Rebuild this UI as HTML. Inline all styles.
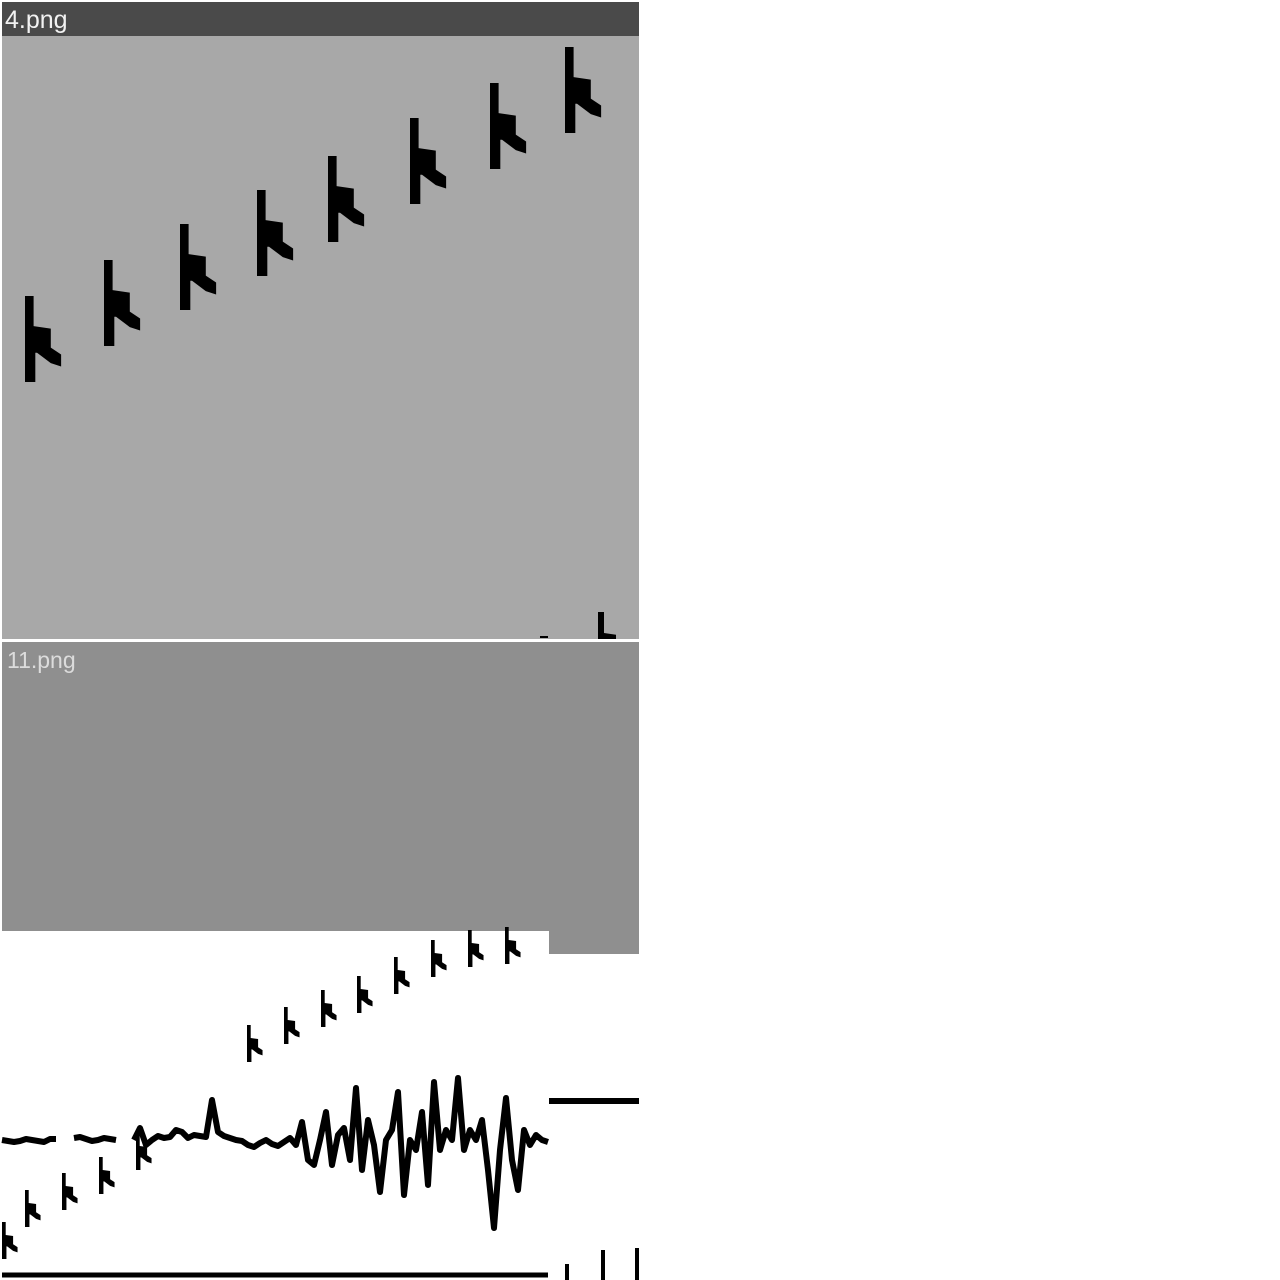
<!DOCTYPE html>
<html><head><meta charset="utf-8">
<style>
html,body{margin:0;padding:0;background:#fff;width:1280px;height:1280px;overflow:hidden}
svg{display:block}
text{font-family:"Liberation Sans",sans-serif}
</style></head>
<body>
<svg id="chart" width="1280" height="1280" viewBox="0 0 1280 1280">
  <defs><clipPath id="topclip"><rect x="2" y="2" width="637" height="637"/></clipPath></defs>
  <rect x="2" y="2" width="637" height="637" fill="#a8a8a8"/>
  <rect x="2" y="2" width="637" height="34" fill="#4a4a4a"/>
  <text x="5" y="28" font-size="25" fill="#f2f2f2">4.png</text>
  <rect x="2" y="642" width="637" height="312" fill="#8f8f8f"/>
  <text x="7" y="668" font-size="23" fill="#dcdcdc">11.png</text>
  <rect x="2" y="931" width="547" height="349" fill="#ffffff"/>
  <rect x="549" y="954" width="90" height="326" fill="#ffffff"/>
  <g id="marks"></g>
  <g id="topmarks" clip-path="url(#topclip)"></g>
</svg>
<script>
// big glyph series (top tile)
const bigX = [25, 104, 180, 257, 328, 410, 490, 565];
const bigTop = [296, 260, 224, 190, 156, 118, 83, 47];
// small glyph series (bottom strip, upper row)
const smallX = [247, 284, 321, 357, 394, 431, 468, 505];
const smallTop = [1025, 1007, 990, 976, 957, 940, 930, 927];
// small glyph series (bottom strip, lower row)
const lowX = [2, 25, 62, 99, 136];
const lowTop = [1222, 1190, 1173, 1157, 1133];
// wave trace values (step 6px from x=2)
const waveY = [1140,1141,1142,1141,1139,1140,1141,1142,1139,1139,null,null,1138,1137,1139,1141,1140,1138,1139,1140,null,null,1140,1128,1145,1140,1136,1138,1137,1130,1132,1138,1135,1136,1137,1100,1132,1136,1138,1140,1141,1145,1147,1143,1140,1144,1146,1142,1138,1145,1122,1160,1165,1140,1112,1165,1135,1128,1160,1088,1170,1120,1145,1192,1140,1130,1092,1195,1140,1150,1112,1185,1082,1150,1130,1140,1078,1150,1130,1140,1120,1170,1228,1150,1098,1160,1190,1130,1145,1135,1140,1142];

const NS = 'http://www.w3.org/2000/svg';
const g = document.getElementById('marks');
const gt = document.getElementById('topmarks');
const shape = [[0,0],[0.1,0],[0.1,0.35],[0.3,0.38],[0.3,0.6],[0.42,0.68],[0.42,0.82],[0.3,0.78],[0.14,0.66],[0.12,0.66],[0.12,1],[0,1]];
function glyph(parent, x, top, h, name){
  const p = document.createElementNS(NS,'polygon');
  p.setAttribute('points', shape.map(s => (x + s[0]*h) + ',' + (top + s[1]*h)).join(' '));
  p.setAttribute('fill','#000');
  
  
  parent.appendChild(p);
}
bigX.forEach((x,i) => glyph(gt, x, bigTop[i], 86, 'glyph-large'));
smallX.forEach((x,i) => glyph(g, x, smallTop[i], 37, 'glyph-small'));
lowX.forEach((x,i) => glyph(g, x, lowTop[i], 37, 'glyph-small-lower'));

// wave
let d = '', pen = false;
waveY.forEach((y,i) => {
  const x = 2 + i*6;
  if (y === null) { pen = false; return; }
  d += (pen ? 'L' : 'M') + x + ' ' + y + ' ';
  pen = true;
});
const w = document.createElementNS(NS,'path');
w.setAttribute('d', d);
w.setAttribute('fill','none');
w.setAttribute('stroke','#000');
w.setAttribute('stroke-width','6');
w.setAttribute('stroke-linejoin','round');


g.appendChild(w);

function line(x1,y1,x2,y2,sw,name){
  const l = document.createElementNS(NS,'line');
  l.setAttribute('x1',x1); l.setAttribute('y1',y1); l.setAttribute('x2',x2); l.setAttribute('y2',y2);
  l.setAttribute('stroke','#000'); l.setAttribute('stroke-width',sw);
  
  
  g.appendChild(l);
}
line(549,1101,639,1101,6,'right-trace');
line(2,1275,548,1275,5,'bottom-trace');
line(567,1264,567,1280,4,'bottom-tick');
line(603,1250,603,1280,4,'bottom-tick');
line(637,1248,637,1280,4,'bottom-tick');
line(540,637,548,637,2,'partial-dash');
glyph(gt, 598, 612, 60, 'glyph-partial');
</script>
</body></html>
